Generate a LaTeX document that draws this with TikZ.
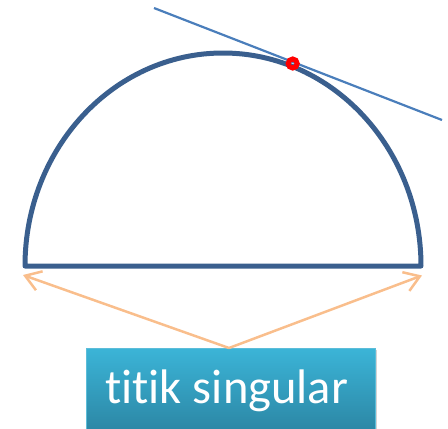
\documentclass[tikz,border=0pt]{standalone}
\usepackage{fontspec}
\setmainfont[Ligatures=NoCommon]{Carlito}
\usetikzlibrary{arrows.meta,shadows}
\definecolor{arcblue}{HTML}{3A5F8E}
\definecolor{tanblue}{HTML}{4A7EBB}
\definecolor{peach}{HTML}{F9BE8C}
\definecolor{boxtop}{HTML}{3BB4D7}
\definecolor{boxbot}{HTML}{2C87A5}
\definecolor{boxedge}{HTML}{5CBDD9}
\tikzset{
  arcline/.style={draw=arcblue, line width=5pt, line join=round, line cap=round},
  tanline/.style={draw=tanblue, line width=2.2pt},
  pointer/.style={draw=peach, line width=2.5pt, -{Straight Barb[length=15pt,width=20pt,line width=2.5pt]}},
  dotmark/.style={circle, draw=red, line width=5pt, minimum size=9pt, inner sep=0pt},
  labeltext/.style={text=white, font=\fontsize{48.5pt}{50pt}\selectfont, inner sep=0pt},
  labelbox/.style={draw=boxedge, line width=1pt, top color=boxtop, bottom color=boxbot,
    minimum width=289pt, minimum height=82pt, inner sep=0pt,
    drop shadow={shadow xshift=1.5pt, shadow yshift=-1.5pt, opacity=0.35}}
}
\begin{document}
\begin{tikzpicture}[x=1pt,y=-1pt]
\useasboundingbox (0,0) rectangle (448,429);
% semicircle
\draw[arcline] (25,266) arc[start angle=180, end angle=360, x radius=198, y radius=213] -- cycle;
% tangent line
\coordinate (t1) at (154,8);
\coordinate (t2) at (442,120);
\draw[tanline] (t1) -- (t2);
\node[dotmark] (p) at (292.7,63.5) {};
% label box
\node[labelbox, anchor=north west] (box) at (86,348) {};
\node[labeltext, anchor=base west] (lbl) at (105,403) {titik singular};
% pointers
\coordinate (L) at (23,275);
\coordinate (R) at (422,275.5);
\coordinate (apex) at ([xshift=-2pt]box.north);
\draw[pointer] (apex) -- (L);
\draw[pointer] (apex) -- (R);
\end{tikzpicture}
\end{document}
